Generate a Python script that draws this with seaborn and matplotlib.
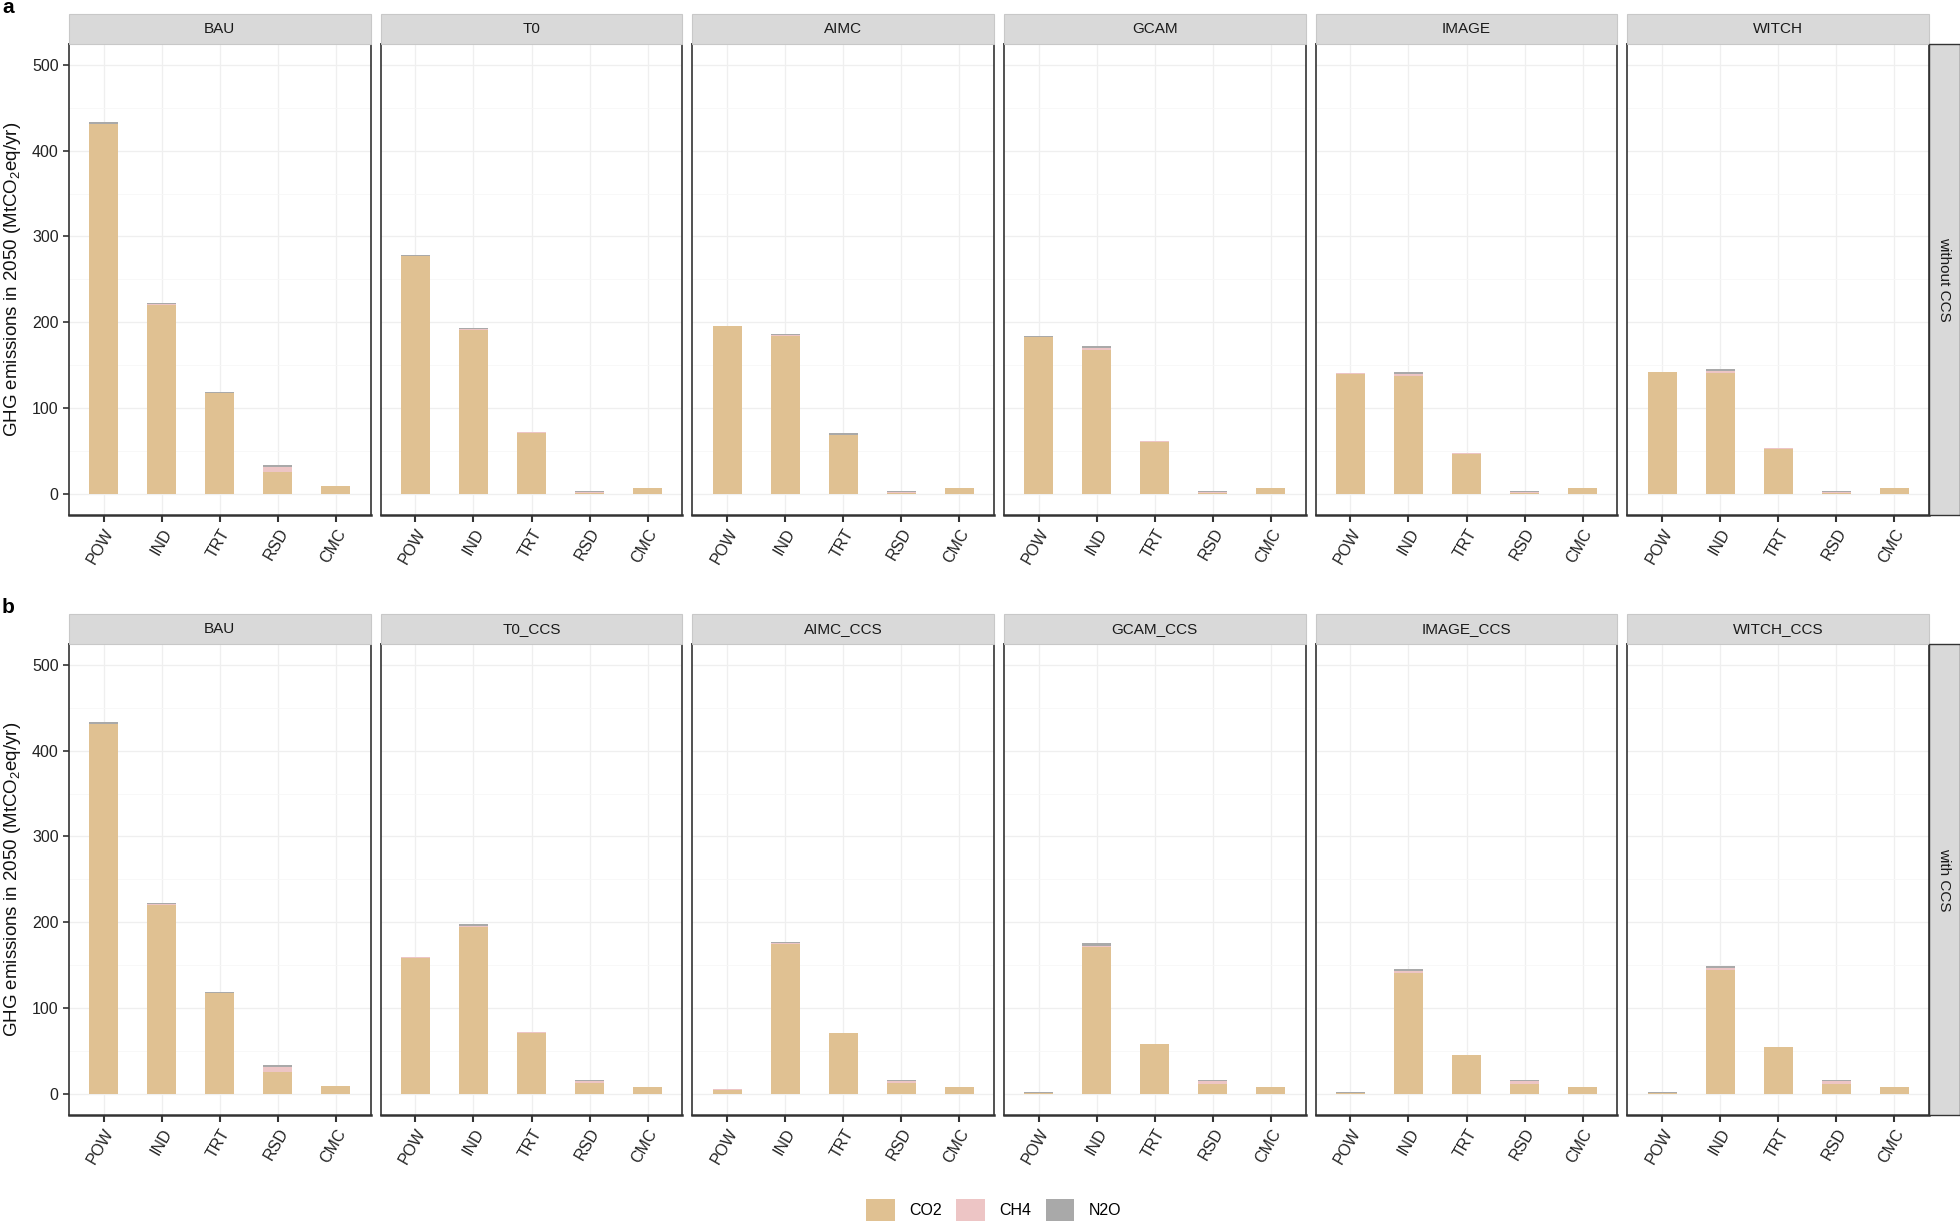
import matplotlib
matplotlib.use("Agg")
import numpy as np
import pandas as pd
import seaborn as sns
from matplotlib import pyplot as plt
from matplotlib.patches import Rectangle, Patch

## data (MtCO2eq/yr in 2050)
sectors = ["POW", "IND", "TRT", "RSD", "CMC"]
gases = ["CO2", "CH4", "N2O"]
row_a = ["BAU", "T0", "AIMC", "GCAM", "IMAGE", "WITCH"]
row_b = ["BAU", "T0_CCS", "AIMC_CCS", "GCAM_CCS", "IMAGE_CCS", "WITCH_CCS"]
row_labels = ["without CCS", "with CCS"]
panel_letters = ["a", "b"]

co2 = {
    "BAU":       [431.0, 220.0, 117.5, 25.5, 8.5],
    "T0":        [277.0, 190.5, 70.5, 0.3, 6.0],
    "AIMC":      [195.5, 183.5, 68.5, 0.3, 6.0],
    "GCAM":      [183.0, 168.0, 60.5, 0.3, 6.0],
    "IMAGE":     [140.0, 137.5, 46.5, 0.3, 6.0],
    "WITCH":     [142.0, 140.5, 52.5, 0.3, 6.0],
    "T0_CCS":    [158.0, 194.5, 71.0, 12.0, 7.8],
    "AIMC_CCS":  [4.0, 175.0, 70.5, 12.0, 7.8],
    "GCAM_CCS":  [0.5, 171.0, 57.5, 11.7, 8.0],
    "IMAGE_CCS": [0.5, 140.5, 44.5, 11.7, 8.0],
    "WITCH_CCS": [0.5, 144.0, 54.0, 11.7, 8.0],
}
ch4 = {
    "BAU":       [0.5, 1.0, 0.3, 6.0, 0.2],
    "T0":        [0.3, 1.5, 1.0, 1.5, 0.1],
    "AIMC":      [0.2, 1.5, 0.3, 1.5, 0.1],
    "GCAM":      [0.2, 1.5, 0.3, 1.5, 0.1],
    "IMAGE":     [0.2, 2.0, 0.3, 1.5, 0.1],
    "WITCH":     [0.2, 2.5, 0.3, 1.5, 0.1],
    "T0_CCS":    [1.0, 1.5, 0.3, 3.0, 0.1],
    "AIMC_CCS":  [1.0, 1.0, 0.3, 3.0, 0.1],
    "GCAM_CCS":  [0.2, 1.5, 0.3, 3.0, 0.1],
    "IMAGE_CCS": [0.2, 2.0, 0.3, 3.0, 0.1],
    "WITCH_CCS": [0.2, 2.5, 0.5, 3.0, 0.1],
}
n2o = {
    "BAU":       [1.5, 1.5, 1.2, 1.5, 0.2],
    "T0":        [1.5, 1.5, 0.3, 1.0, 0.1],
    "AIMC":      [0.3, 1.5, 1.5, 1.0, 0.1],
    "GCAM":      [1.0, 2.5, 1.0, 1.0, 0.1],
    "IMAGE":     [0.2, 2.5, 1.0, 1.0, 0.1],
    "WITCH":     [0.2, 2.5, 0.2, 1.0, 0.1],
    "T0_CCS":    [0.3, 1.5, 0.3, 1.0, 0.1],
    "AIMC_CCS":  [0.2, 1.0, 0.2, 1.0, 0.1],
    "GCAM_CCS":  [1.0, 3.5, 0.2, 1.3, 0.1],
    "IMAGE_CCS": [1.0, 3.0, 0.2, 1.3, 0.1],
    "WITCH_CCS": [1.0, 2.5, 0.2, 1.3, 0.1],
}

colors = {"CO2": "#E0C192", "CH4": "#EDC5C5", "N2O": "#A9A9A9"}

plt.rcParams['font.family'] = ['Liberation Sans', 'DejaVu Sans']
plt.rcParams['mathtext.fontset'] = 'custom'
plt.rcParams['mathtext.rm'] = 'Liberation Sans'
plt.rcParams['mathtext.it'] = 'Liberation Sans:italic'

W, H = 1960, 1226
fig = plt.figure(figsize=(W / 100, H / 100), dpi=100)

## layout in pixels
left0, right_end, gap = 69, 1929, 10
pw = (right_end - left0 - 5 * gap) / 6
rows_y = [(43.6, 515), (643.6, 1115)]   # panel top, bottom
strip_h = 30

def fx(x):
    return x / W

def fy(y):
    return 1 - y / H

for r, scen_row in enumerate([row_a, row_b]):
    top, bot = rows_y[r]
    for c, scen in enumerate(scen_row):
        x0 = left0 + c * (pw + gap)
        ax = fig.add_axes([fx(x0), fy(bot), pw / W, (bot - top) / H])

        df = pd.DataFrame({"sector": sectors, "CO2": co2[scen],
                           "CH4": ch4[scen], "N2O": n2o[scen]})
        df["lvl3"] = df.CO2 + df.CH4 + df.N2O
        df["lvl2"] = df.CO2 + df.CH4

        ## stacked bars: draw cumulative totals from the top down
        for col, gas in [("lvl3", "N2O"), ("lvl2", "CH4"), ("CO2", "CO2")]:
            sns.barplot(ax=ax, data=df, x="sector", y=col, order=sectors,
                        color=colors[gas], saturation=1, width=0.5,
                        errorbar=None, linewidth=0)

        ax.set_xlim(-0.6, 4.6)
        ax.set_ylim(-25, 525)
        ax.set_yticks([0, 100, 200, 300, 400, 500])
        ax.set_yticks([50, 150, 250, 350, 450], minor=True)
        ax.set_axisbelow(True)
        ax.grid(which='major', axis='both', color='#EFEFEF', lw=0.9)
        ax.grid(which='minor', axis='y', color='#F7F7F7', lw=0.6)
        ax.set_xlabel("")
        ax.set_ylabel("")
        for s in ax.spines.values():
            s.set_color('#333333')
            s.set_linewidth(1.2)
        ax.spines['bottom'].set_linewidth(1.8)
        ax.tick_params(axis='x', length=5, width=1.5, color='#333333',
                       labelsize=11.5, pad=3)
        ax.tick_params(axis='y', which='minor', length=0)
        plt.setp(ax.get_xticklabels(), rotation=60, ha='right',
                 rotation_mode='anchor', color='#222222')
        if c == 0:
            ax.tick_params(axis='y', length=4, width=1.2, color='#333333',
                           labelsize=11.5, labelcolor='#222222')
        else:
            ax.tick_params(axis='y', length=0, labelleft=False)

        ## facet strip on top
        fig.patches.append(Rectangle((fx(x0), fy(top)), pw / W, strip_h / H,
                                     transform=fig.transFigure,
                                     facecolor='#D9D9D9', edgecolor='#C8C8C8',
                                     lw=0.8, zorder=0))
        fig.text(fx(x0 + pw / 2), fy(top - strip_h / 2), scen, ha='center',
                 va='center', fontsize=11, color='#1A1A1A')

    ## row strip on the right
    fig.patches.append(Rectangle((fx(right_end), fy(bot)), 31 / W, (bot - top) / H,
                                 transform=fig.transFigure, facecolor='#D9D9D9',
                                 edgecolor='#333333', lw=1.0, zorder=0))
    fig.text(fx(right_end + 15.5), fy((top + bot) / 2), row_labels[r],
             rotation=-90, ha='center', va='center', fontsize=11,
             color='#1A1A1A')

    ## y axis title and panel letter
    fig.text(fx(13), fy((top + bot) / 2),
             "GHG emissions in 2050 (MtCO$_2$eq/yr)", rotation=90,
             ha='center', va='center', fontsize=13.5, color='#111111')
    fig.text(fx(2), fy(top - 36), panel_letters[r], ha='left', va='center',
             fontsize=15, fontweight='bold')

handles = [Patch(facecolor=colors[g], edgecolor='none', label=g) for g in gases]
fig.legend(handles=handles, loc='lower center', bbox_to_anchor=(0.507, -0.008),
           ncol=3, frameon=False, fontsize=11.5, handlelength=1.8,
           handleheight=1.8, columnspacing=0.9, handletextpad=0.9)

plt.savefig("out.png", dpi=100)
